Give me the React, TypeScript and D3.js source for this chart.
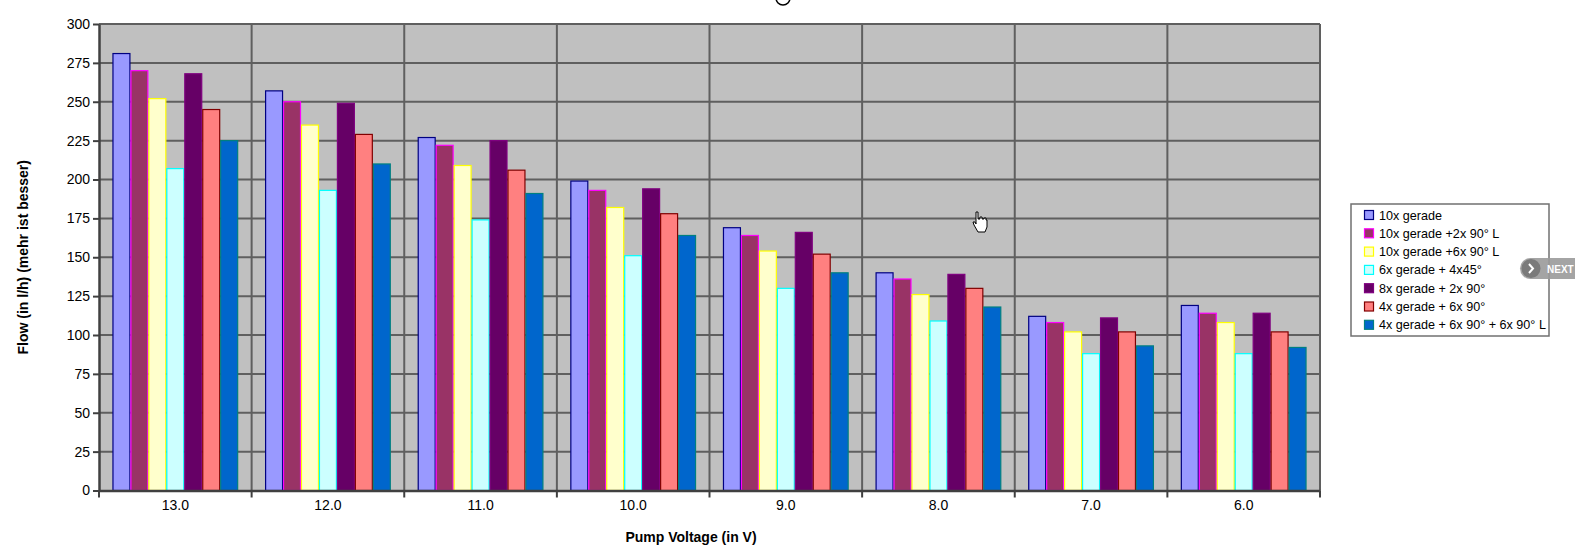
import { useEffect, useRef } from 'react';
import * as d3 from 'd3';

const VOLTAGES = ['13.0', '12.0', '11.0', '10.0', '9.0', '8.0', '7.0', '6.0'];

const SERIES_NAMES = [
  '10x gerade',
  '10x gerade +2x 90° L',
  '10x gerade +6x 90° L',
  '6x gerade + 4x45°',
  '8x gerade + 2x 90°',
  '4x gerade + 6x 90°',
  '4x gerade + 6x 90° + 6x 90° L',
];

const FILLS = ['#9999ff', '#993366', '#ffffcc', '#ccffff', '#660066', '#ff8080', '#0066cc'];
const STROKES = ['#000080', '#ff00ff', '#ffff00', '#00ffff', '#800080', '#800000', '#008080'];

// one array per series, values by voltage (13V .. 6V)
const GERADE_10 = [281, 257, 227, 199, 169, 140, 112, 119];
const GERADE_10_2L = [270, 250, 222, 193, 164, 136, 108, 114];
const GERADE_10_6L = [252, 235, 209, 182, 154, 126, 102, 108];
const GERADE_6_4X45 = [207, 193, 174, 151, 130, 109, 88, 88];
const GERADE_8_2X90 = [268, 249, 225, 194, 166, 139, 111, 114];
const GERADE_4_6X90 = [245, 229, 206, 178, 152, 130, 102, 102];
const GERADE_4_6X90_6L = [225, 210, 191, 164, 140, 118, 93, 92];

const SERIES = [
  GERADE_10,
  GERADE_10_2L,
  GERADE_10_6L,
  GERADE_6_4X45,
  GERADE_8_2X90,
  GERADE_4_6X90,
  GERADE_4_6X90_6L,
];

const Y_TICKS = [0, 25, 50, 75, 100, 125, 150, 175, 200, 225, 250, 275, 300];

export default function App() {
  const ref = useRef<SVGSVGElement>(null);

  useEffect(() => {
    if (!ref.current) return;
    const svg = d3.select(ref.current);
    svg.selectAll('*').remove();

    const W = 1575;
    const H = 552;
    const left = 99, right = 1320, top = 24, bottom = 490.5;
    const font = '"Liberation Sans", Arial, sans-serif';

    svg.attr('width', W).attr('height', H).style('font-family', font);

    const x = d3.scaleBand<string>().domain(VOLTAGES).range([left, right]).padding(0);
    const inner = d3.scaleBand<number>()
      .domain(d3.range(SERIES.length))
      .range([0, x.bandwidth()])
      .paddingInner(0)
      .paddingOuter(0.75);
    const y = d3.scaleLinear().domain([0, 300]).range([bottom, top]);

    // plot area
    svg.append('rect')
      .attr('x', left).attr('y', top)
      .attr('width', right - left).attr('height', bottom - top)
      .attr('fill', '#c0c0c0');

    // horizontal grid
    svg.append('g').selectAll('line')
      .data(Y_TICKS.slice(1))
      .join('line')
      .attr('x1', left).attr('x2', right)
      .attr('y1', d => y(d)).attr('y2', d => y(d))
      .attr('stroke', '#5f5f5f').attr('stroke-width', 2);

    // vertical grid at category boundaries
    svg.append('g').selectAll('line')
      .data(VOLTAGES.slice(1).concat(['end']))
      .join('line')
      .attr('x1', d => (d === 'end' ? right : (x(d) as number)))
      .attr('x2', d => (d === 'end' ? right : (x(d) as number)))
      .attr('y1', top).attr('y2', bottom)
      .attr('stroke', '#5f5f5f').attr('stroke-width', 2);

    // bars
    SERIES.forEach((values, si) => {
      svg.append('g').selectAll('rect')
        .data(values)
        .join('rect')
        .attr('x', (d, i) => (x(VOLTAGES[i]) as number) + (inner(si) as number) + 0.5)
        .attr('y', d => y(d))
        .attr('width', inner.bandwidth() - 1)
        .attr('height', d => bottom - y(d))
        .attr('fill', FILLS[si])
        .attr('stroke', STROKES[si])
        .attr('stroke-width', 1.2);
    });

    // y axis
    const yAxis = svg.append('g')
      .attr('transform', `translate(${left},0)`)
      .call(d3.axisLeft(y).tickValues(Y_TICKS).tickSize(6).tickPadding(3).tickSizeOuter(0));
    yAxis.selectAll('text').attr('fill', '#000').attr('font-size', 14).attr('font-family', font);
    yAxis.selectAll('.tick line').attr('stroke', '#404040').attr('stroke-width', 2);
    yAxis.select('.domain').attr('stroke', '#404040').attr('stroke-width', 2.5);

    // x axis
    const xAxis = svg.append('g')
      .attr('transform', `translate(0,${bottom})`)
      .call(d3.axisBottom(x).tickSize(0).tickPadding(10).tickSizeOuter(0));
    xAxis.selectAll('text').attr('fill', '#000').attr('font-size', 14).attr('font-family', font);
    xAxis.select('.domain').attr('stroke', '#404040').attr('stroke-width', 2.5);
    svg.append('g').selectAll('line')
      .data(VOLTAGES.concat(['end']))
      .join('line')
      .attr('x1', d => (d === 'end' ? right : (x(d) as number)))
      .attr('x2', d => (d === 'end' ? right : (x(d) as number)))
      .attr('y1', bottom).attr('y2', bottom + 7)
      .attr('stroke', '#404040').attr('stroke-width', 2);

    // axis titles
    svg.append('text')
      .attr('transform', `translate(28,${(top + bottom) / 2}) rotate(-90)`)
      .attr('text-anchor', 'middle')
      .attr('font-size', 14).attr('font-weight', 'bold')
      .text('Flow (in l/h) (mehr ist besser)');
    svg.append('text')
      .attr('x', 691).attr('y', 542)
      .attr('text-anchor', 'middle')
      .attr('font-size', 14).attr('font-weight', 'bold')
      .text('Pump Voltage (in V)');

    // top fragment of a title glyph
    svg.append('circle')
      .attr('cx', 783).attr('cy', -2).attr('r', 7)
      .attr('fill', 'none').attr('stroke', '#000').attr('stroke-width', 1.5);

    // legend
    const legend = svg.append('g').attr('transform', 'translate(1351,204)');
    legend.append('rect')
      .attr('x', 0).attr('y', 0).attr('width', 198).attr('height', 132)
      .attr('fill', '#fff').attr('stroke', '#707070').attr('stroke-width', 1.5);
    SERIES_NAMES.forEach((name, i) => {
      const cy = 11 + i * 18.3;
      legend.append('rect')
        .attr('x', 13.5).attr('y', cy - 4.5).attr('width', 9).attr('height', 9)
        .attr('fill', FILLS[i]).attr('stroke', STROKES[i]).attr('stroke-width', 1.2);
      legend.append('text')
        .attr('x', 28).attr('y', cy + 4.5)
        .attr('font-size', 12.6)
        .text(name);
    });

    // hand cursor
    const hand = svg.append('g').attr('transform', 'translate(972,211)');
    hand.append('path')
      .attr('d', 'M4,1 L6,1 L6,8 L8,8 L8,6 L10,6 L10,8 L12,8 L12,7 L14,7 L14,9 L15,9 L15,16 L13,21 L6,21 L2,14 L1,11 L3,11 L4,13 Z')
      .attr('fill', '#fff').attr('stroke', '#000').attr('stroke-width', 1);

    // NEXT pill
    const next = svg.append('g').attr('transform', 'translate(1520,258)');
    next.append('rect')
      .attr('x', 0).attr('y', 0).attr('width', 80).attr('height', 21).attr('rx', 10.5)
      .attr('fill', '#9a9a9a').attr('opacity', 0.9);
    next.append('circle').attr('cx', 11).attr('cy', 10.5).attr('r', 9.5).attr('fill', '#7a7a7a');
    next.append('path')
      .attr('d', 'M9,6 L13,10.5 L9,15')
      .attr('fill', 'none').attr('stroke', '#fff').attr('stroke-width', 2);
    next.append('text')
      .attr('x', 27).attr('y', 14.5)
      .attr('font-size', 10).attr('font-weight', 'bold').attr('fill', '#fff')
      .text('NEXT');
  }, []);

  return <svg ref={ref} style={{ position: 'absolute', left: 0, top: 0, display: 'block' }} />;
}
